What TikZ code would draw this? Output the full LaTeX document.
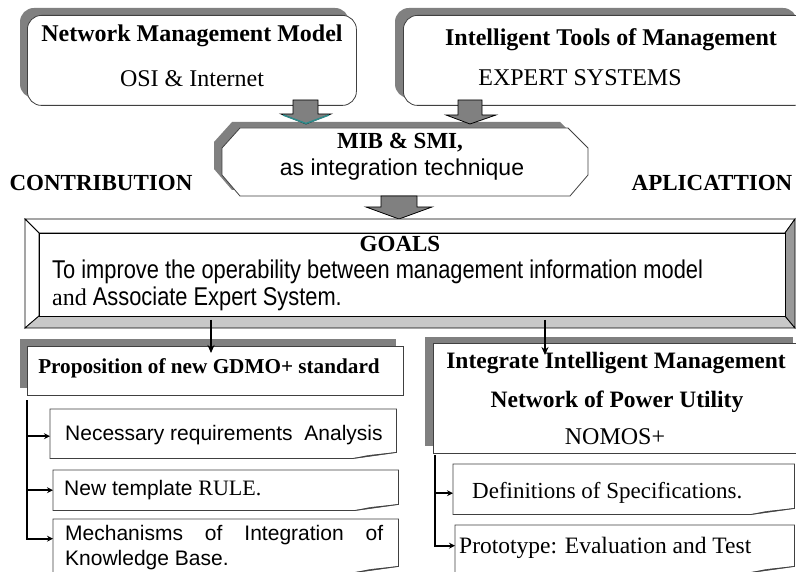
\documentclass[tikz,border=0pt]{standalone}
\usepackage{fontspec}
\setmainfont{Liberation Serif}
\setsansfont{Liberation Sans}
\newfontfamily\narrowsans[FakeStretch=0.85]{Liberation Sans}
\usetikzlibrary{arrows.meta}
\definecolor{shade}{HTML}{808080}
\definecolor{bevlo}{HTML}{C8C8C8}
\definecolor{bevri}{HTML}{999999}
\definecolor{edge}{HTML}{404040}
\definecolor{tealc}{HTML}{2E8B8B}
\definecolor{foldc}{HTML}{B4B4B4}
\newcommand\notedraw[1]{%
  \draw[boxc] (#1.north west) -- (#1.north east) -- ([yshift=6pt]#1.south east)
     -- ([xshift=-43pt]#1.south east) -- (#1.south west) -- cycle;
  \filldraw[foldc,draw=edge,line width=0.5pt] ([xshift=-43pt]#1.south east) -- ([yshift=6pt]#1.south east)
     -- ([xshift=-28pt,yshift=3pt]#1.south east) -- cycle;}
\begin{document}
\begin{tikzpicture}[x=1pt,y=-1pt,
  shadowc/.style={fill=shade,draw=none},
  boxc/.style={fill=white,draw=edge,line width=0.8pt},
  blk/.style={fill=shade,draw=black,line width=0.8pt,line join=miter},
  hb/.style={font=\fontsize{24}{28}\selectfont\bfseries,inner sep=0pt},
  hr/.style={font=\fontsize{24}{28}\selectfont,inner sep=0pt},
  sr/.style={font=\sffamily\fontsize{21}{25}\selectfont,inner sep=0pt},
  nr/.style={font=\narrowsans\fontsize{25.7}{29}\selectfont,inner sep=0pt},
  thinar/.style={draw=black,line width=1.8pt,-{Stealth[length=8pt,width=7pt]}},
  brk/.style={draw=black,line width=1.8pt},
  brkar/.style={brk,-{Stealth[length=6pt,width=6pt]}},
  notebg/.style={draw=none,fill=none,inner sep=0pt,anchor=north west}]
\useasboundingbox (0,0) rectangle (796,572);
\clip (0,0) rectangle (796,572);
\fill[white] (0,0) rectangle (796,572);

% ---- top boxes
\fill[shadowc,rounded corners=14pt] (20,8) rectangle (349,98);
\node[boxc,rounded corners=14pt,minimum width=329pt,minimum height=90pt,anchor=north west] (nmmbox) at (27,15) {};
\fill[shadowc,rounded corners=14pt] (395,8) rectangle (797,98);
\node[boxc,rounded corners=14pt,minimum width=405pt,minimum height=90pt,anchor=north west] (itmbox) at (403,15) {};

\node[hb] (nmm) at (192,36) {Network Management Model};
\node[hr] (osi) at (192,79) {OSI \& Internet};
\node[hb] (itm) at (611,40) {Intelligent Tools of Management};
\node[hr] (exp) at (580,78) {EXPERT SYSTEMS};

% ---- octagon MIB
\fill[shadowc] (232,122) -- (560,122) -- (580,142) -- (580,169) -- (562,190) -- (232,190) -- (214,169) -- (214,142) -- cycle;
\filldraw[boxc] (240,128) -- (568,128) -- (588,148) -- (588,175) -- (570,196) -- (240,196) -- (222,175) -- (222,148) -- cycle;
\node[font=\fontsize{23}{27}\selectfont\bfseries,inner sep=0pt] (mib) at (400,143) {MIB \& SMI,};
\node[font=\sffamily\fontsize{23}{27}\selectfont,inner sep=0pt] (ait) at (402,170) {as integration technique};

% ---- block arrows top
\filldraw[blk] (293,100) -- (318,100) -- (318,114) -- (331,114) -- (306,124) -- (281,114) -- (293,114) -- cycle;
\draw[tealc,line width=1.5pt] (283,115) -- (306,123.5) -- (329,115);
\filldraw[blk] (458,100) -- (482,100) -- (482,115) -- (496,115) -- (470,124) -- (446,115) -- (458,115) -- cycle;

% ---- side labels
\node[font=\fontsize{23}{27}\selectfont\bfseries,inner sep=0pt] (contrib) at (101,183) {CONTRIBUTION};
\node[font=\fontsize{23}{27}\selectfont\bfseries,inner sep=0pt] (aplic) at (712,183) {APLICATTION};

% ---- arrow to goals
\filldraw[blk] (381,196) -- (417,196) -- (417,207) -- (432,207) -- (399,219) -- (366,207) -- (381,207) -- cycle;

% ---- GOALS bevel box
\filldraw[fill=white,draw=black,line width=0.8pt] (25,219) -- (795,219) -- (785,233) -- (39,233) -- cycle;
\filldraw[fill=white,draw=black,line width=0.8pt] (25,219) -- (39,233) -- (39,316) -- (25,328) -- cycle;
\filldraw[fill=bevlo,draw=black,line width=0.8pt] (25,328) -- (39,316) -- (785,316) -- (795,328) -- cycle;
\filldraw[fill=bevri,draw=black,line width=0.8pt] (795,219) -- (785,233) -- (785,316) -- (795,328) -- cycle;
\node[fill=white,draw=black,line width=0.8pt,minimum width=746pt,minimum height=83pt,anchor=north west,inner sep=0pt] (goalsin) at (39,233) {};
\node[font=\fontsize{23}{27}\selectfont\bfseries,inner sep=0pt] (goals) at (400,244) {GOALS};
\node[nr,anchor=west] (gl1) at (52,272) {To improve the operability between management information model};
\node[nr,anchor=west] (gl2) at (52,299) {{\rmfamily\fontsize{24}{28}\selectfont and} Associate Expert System.};

% ---- lower left main box
\fill[shadowc] (20,339) rectangle (396,388);
\node[boxc,minimum width=376pt,minimum height=49pt,anchor=north west,inner sep=0pt] (propbox) at (27,346) {};
\node[font=\fontsize{21.2}{25}\selectfont\bfseries,inner sep=0pt] (prop) at (209,368) {Proposition of new GDMO+ standard};

% ---- lower right main box
\fill[shadowc] (425,337) rectangle (793,446);
\node[boxc,minimum width=372pt,minimum height=110pt,anchor=north west,inner sep=0pt] (iimbox) at (433,343) {};
\node[font=\fontsize{23.5}{28}\selectfont\bfseries,inner sep=0pt] (iim) at (616,363) {Integrate Intelligent Management};
\node[font=\fontsize{23.5}{28}\selectfont\bfseries,inner sep=0pt] (npu) at (617,402) {Network of Power Utility};
\node[hr] (nomos) at (615,437) {NOMOS+};

% ---- goals arrows
\coordinate (ga1) at (211,320);
\coordinate (ga1e) at (211,353);
\coordinate (ga2) at (545,320);
\coordinate (ga2e) at (545,355);
\draw[thinar] (ga1) -- (ga1e);
\draw[thinar] (ga2) -- (ga2e);

% ---- note boxes left
\node[notebg,minimum width=346pt,minimum height=49pt] (s1) at (50,409) {};
\notedraw{s1}
\node[notebg,minimum width=345pt,minimum height=40pt] (s2) at (53,470) {};
\notedraw{s2}
\node[notebg,minimum width=345pt,minimum height=53pt] (s3) at (53,519) {};
\notedraw{s3}
\node[sr,anchor=west] (t1) at (65,435) {Necessary requirements\ \ Analysis};
\node[sr,anchor=west] (t2) at (64,490) {New template {\rmfamily\fontsize{22}{26}\selectfont RULE.}};
\node[sr,anchor=west] (t3a) at (65,535) {\makebox[318pt][s]{Mechanisms of Integration of}};
\node[sr,anchor=west] (t3b) at (65,560) {Knowledge Base.};

% ---- note boxes right
\node[notebg,minimum width=341pt,minimum height=50pt] (s4) at (453,464) {};
\notedraw{s4}
\node[notebg,minimum width=339pt,minimum height=47pt] (s5) at (455,525) {};
\notedraw{s5}
\node[hr,font=\fontsize{23}{27}\selectfont,anchor=west] (t4) at (472,493) {Definitions of Specifications.};
\node[hr,font=\fontsize{23.5}{27}\selectfont,anchor=west] (t5) at (459,548) {Prototype: Evaluation and Test};

% ---- brackets
\coordinate (lb) at (27,400);
\draw[brkar] (lb) |- ([yshift=7pt]s3.west);
\draw[brkar] (lb |- s1.west) ++(0,2.5) -- ([yshift=-2.5pt]s1.west);
\draw[brkar] (lb |- s2.west) -- (s2.west);
\coordinate (rb) at (435,455);
\draw[brkar] (rb) |- ([yshift=3pt]s5.west);
\draw[brkar] ([yshift=-4pt]rb |- s4.west) -- ([yshift=-4pt]s4.west);
\end{tikzpicture}
\end{document}
